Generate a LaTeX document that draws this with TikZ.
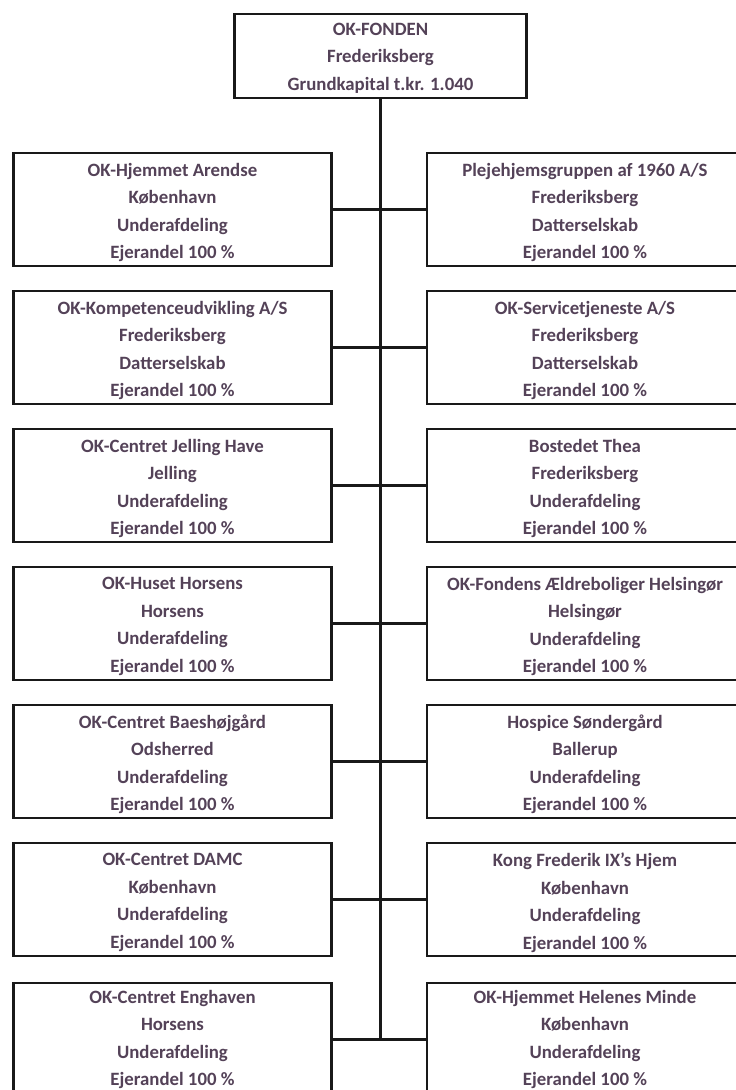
\documentclass[tikz,border=0pt]{standalone}
\usepackage{fontspec}
\setmainfont{Carlito}
\definecolor{txt}{RGB}{84,66,88}
\definecolor{ln}{RGB}{25,25,25}
\begin{document}
\begin{tikzpicture}[x=1pt,y=-1pt,
  box/.style={draw=ln,line width=2.7pt,rectangle,inner sep=0pt,minimum height=113pt},
  lbl/.style={inner sep=0pt,align=center,text=txt,yshift=-3pt,
    font=\fontsize{18.8}{27.5}\selectfont\bfseries},
  lbox/.style={box,minimum width=318pt},
  rbox/.style={box,minimum width=316pt},
  topbox/.style={box,minimum width=292pt,minimum height=84pt},
  conn/.style={draw=ln,line width=2.7pt}]
\useasboundingbox (0,0) rectangle (736,1090);
\clip (0,0) rectangle (736,1090);
\fill[white] (0,0) rectangle (736,1090);

\node[topbox,label={[lbl,yshift=1pt]center:{OK-FONDEN\\Frederiksberg\\Grundkapital t.kr. 1.040}}] (top) at (380.5,56) {};

\node[lbox,label={[lbl]center:{OK-Hjemmet Arendse\\København\\Underafdeling\\Ejerandel 100 \%}}] (L1) at (172.5,209.5) {};
\node[rbox,label={[lbl]center:{Plejehjemsgruppen af 1960 A/S\\Frederiksberg\\Datterselskab\\Ejerandel 100 \%}}] (R1) at (585,209.5) {};

\node[lbox,label={[lbl]center:{OK-Kompetenceudvikling A/S\\Frederiksberg\\Datterselskab\\Ejerandel 100 \%}}] (L2) at (172.5,347.5) {};
\node[rbox,label={[lbl]center:{OK-Servicetjeneste A/S\\Frederiksberg\\Datterselskab\\Ejerandel 100 \%}}] (R2) at (585,347.5) {};

\node[lbox,label={[lbl]center:{OK-Centret Jelling Have\\Jelling\\Underafdeling\\Ejerandel 100 \%}}] (L3) at (172.5,485.5) {};
\node[rbox,label={[lbl]center:{Bostedet Thea\\Frederiksberg\\Underafdeling\\Ejerandel 100 \%}}] (R3) at (585,485.5) {};

\node[lbox,label={[lbl]center:{OK-Huset Horsens\\Horsens\\Underafdeling\\Ejerandel 100 \%}}] (L4) at (172.5,623.5) {};
\node[rbox,label={[lbl]center:{OK-Fondens Ældreboliger Helsingør\\Helsingør\\Underafdeling\\Ejerandel 100 \%}}] (R4) at (585,623.5) {};

\node[lbox,label={[lbl]center:{OK-Centret Baeshøjgård\\Odsherred\\Underafdeling\\Ejerandel 100 \%}}] (L5) at (172.5,761.5) {};
\node[rbox,label={[lbl]center:{Hospice Søndergård\\Ballerup\\Underafdeling\\Ejerandel 100 \%}}] (R5) at (585,761.5) {};

\node[lbox,label={[lbl]center:{OK-Centret DAMC\\København\\Underafdeling\\Ejerandel 100 \%}}] (L6) at (172.5,899.5) {};
\node[rbox,label={[lbl]center:{Kong Frederik IX's Hjem\\København\\Underafdeling\\Ejerandel 100 \%}}] (R6) at (585,899.5) {};

\node[lbox,label={[lbl,yshift=3pt]center:{OK-Centret Enghaven\\Horsens\\Underafdeling\\Ejerandel 100 \%}}] (L7) at (172.5,1039.5) {};
\node[rbox,label={[lbl,yshift=3pt]center:{OK-Hjemmet Helenes Minde\\København\\Underafdeling\\Ejerandel 100 \%}}] (R7) at (585,1039.5) {};

\coordinate (trunkend) at (top.south |- L7.east);
\draw[conn] (top.south) -- (trunkend);
\foreach \i in {1,...,7}{
  \draw[conn] (L\i.east) -- (R\i.west);
}
\end{tikzpicture}
\end{document}
